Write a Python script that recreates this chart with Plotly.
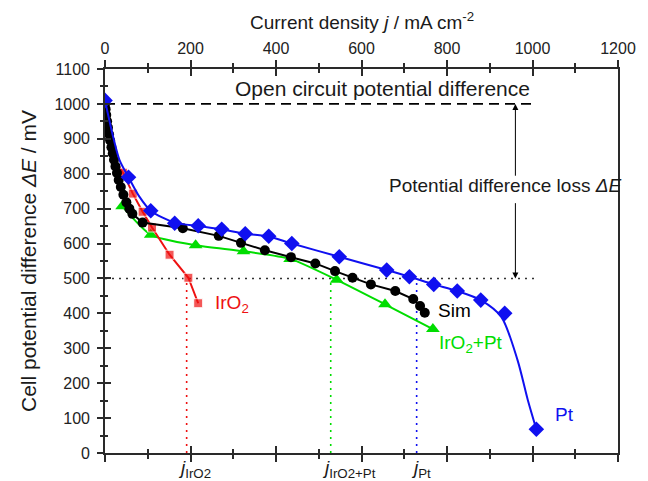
import plotly.graph_objects as go

# ---------------- data ----------------
pt_j = [0, 55, 107, 163, 218, 273, 328, 383, 437, 548, 659, 712, 769, 824, 879, 935, 1009]
pt_E = [1010, 790, 694, 658, 651, 641, 628, 621, 600, 562, 524, 505, 483, 464, 438, 400, 68]

pt_fit_j = [0, 19, 34, 55, 80, 107, 163, 218, 273, 328, 383, 437, 548, 659, 712, 769, 824, 879, 927, 965, 989, 1009]
pt_fit_E = [1010, 906, 839, 790, 735, 694, 660, 650, 641, 628, 620, 600, 562, 524, 505, 483, 464, 438, 390, 266, 152, 68]

sim_j = [0, 1.5, 3, 5, 7, 9.5, 12, 15, 18, 21, 24.5, 28, 32, 37, 43, 50, 57, 64, 88,
         182, 266, 318, 374, 435, 492, 538, 579, 622, 679, 721, 737, 748]
sim_E = [1000, 985, 968, 950, 932, 913, 895, 876, 858, 840, 821, 802, 782, 762, 740, 718, 700, 685, 660,
         644, 622, 602, 581, 561, 543, 521, 502, 483, 464, 441, 421, 402]

mix_j = [40, 107, 212, 324, 433, 542, 655, 767]
mix_E = [707, 625, 595, 578, 556, 496, 426, 355]

iro2_j = [0, 15, 42, 65, 88, 110, 151, 195, 218]
iro2_E = [1000, 855, 803, 743, 691, 646, 568, 502, 429]

ocv_E = 1000
cut_E = 500
j_cut = {"IrO2": 191, "IrO2+Pt": 528, "Pt": 729}

x_ticks_range = [0, 1200]
y_range = [0, 1100]

# ---------------- styling ----------------
FONT = "Liberation Sans, Arial, sans-serif"
BLUE = "#1010F0"
GREEN = "#00DD00"
RED = "#EE1111"
AX = "#2a2a2a"

fig = go.Figure()

# reference lines
fig.add_trace(go.Scatter(x=[0, 1000], y=[ocv_E, ocv_E], mode="lines",
                         line=dict(color="black", width=1.6, dash="10px,6px"), hoverinfo="skip"))
fig.add_trace(go.Scatter(x=[0, 1010], y=[cut_E, cut_E], mode="lines",
                         line=dict(color="#333333", width=1.6, dash="2px,5px"), hoverinfo="skip"))
for key, col in [("IrO2", RED), ("IrO2+Pt", GREEN), ("Pt", BLUE)]:
    fig.add_trace(go.Scatter(x=[j_cut[key], j_cut[key]], y=[0, cut_E], mode="lines",
                             line=dict(color=col, width=1.6, dash="2px,5px"), hoverinfo="skip"))

# data series
fig.add_trace(go.Scatter(x=mix_j, y=mix_E, mode="lines+markers",
                         line=dict(color=GREEN, width=2, shape="spline", smoothing=0.6),
                         marker=dict(symbol="triangle-up", size=12, color=GREEN)))
red_sizes = [0, 0] + [9] * (len(iro2_j) - 2)
fig.add_trace(go.Scatter(x=iro2_j, y=iro2_E, mode="lines+markers",
                         line=dict(color=RED, width=2),
                         marker=dict(symbol="square", size=red_sizes, color=RED)))
fig.add_trace(go.Scatter(x=sim_j, y=sim_E, mode="lines+markers",
                         line=dict(color="black", width=2),
                         marker=dict(symbol="circle", size=10, color="black")))
fig.add_trace(go.Scatter(x=pt_fit_j, y=pt_fit_E, mode="lines",
                         line=dict(color=BLUE, width=2, shape="spline", smoothing=0.8)))
fig.add_trace(go.Scatter(x=pt_j, y=pt_E, mode="markers",
                         marker=dict(symbol="diamond", size=12, color=BLUE)))

# dummy traces to bind overlay axes
for xa, ya in [("x2", "y"), ("x3", "y"), ("x4", "y"), ("x", "y2")]:
    fig.add_trace(go.Scatter(x=[None], y=[None], xaxis=xa, yaxis=ya, hoverinfo="skip"))

common_x = dict(range=x_ticks_range, tick0=0, dtick=200, showgrid=False, zeroline=False,
                linecolor=AX, linewidth=1.6, tickcolor=AX, tickwidth=1.6, ticklen=7,
                tickfont=dict(family=FONT, size=16, color="#222"))
common_y = dict(range=y_range, tick0=0, dtick=100, showgrid=False, zeroline=False,
                linecolor=AX, linewidth=1.6, tickcolor=AX, tickwidth=1.6, ticklen=6,
                tickfont=dict(family=FONT, size=16, color="#222"))

fig.update_layout(
    width=648, height=481,
    margin=dict(l=105, r=19, t=69, b=28),
    paper_bgcolor="white", plot_bgcolor="white",
    showlegend=False,
    font=dict(family=FONT, size=16, color="#222"),
    xaxis=dict(**common_x, side="bottom", anchor="y", showline=True, ticks="outside",
               showticklabels=False,
               minor=dict(dtick=100, ticklen=4, ticks="outside", tickcolor=AX, tickwidth=1.6)),
    xaxis3=dict(**common_x, side="bottom", anchor="y", overlaying="x", showline=False, ticks="inside",
                showticklabels=False,
                minor=dict(dtick=100, ticklen=4, ticks="inside", tickcolor=AX, tickwidth=1.6)),
    xaxis2=dict(**common_x, side="top", anchor="y", overlaying="x", showline=True, ticks="outside",
                showticklabels=True,
                minor=dict(dtick=100, ticklen=4, ticks="outside", tickcolor=AX, tickwidth=1.6)),
    xaxis4=dict(**common_x, side="top", anchor="y", overlaying="x", showline=False, ticks="inside",
                showticklabels=False,
                minor=dict(dtick=100, ticklen=4, ticks="inside", tickcolor=AX, tickwidth=1.6)),
    yaxis=dict(**common_y, side="left", anchor="x", showline=True, mirror=True, ticks="outside",
               showticklabels=True, ticklabelstandoff=4,
               minor=dict(dtick=50, ticklen=3, ticks="outside", tickcolor=AX, tickwidth=1.6)),
    yaxis2=dict(**common_y, side="left", anchor="x", overlaying="y", showline=False, ticks="inside",
                showticklabels=False,
                minor=dict(dtick=50, ticklen=3, ticks="inside", tickcolor=AX, tickwidth=1.6)),
)

ann = []
TXT = dict(family=FONT, size=19, color="#1a1a1a")
# titles
ann.append(dict(text="Current density <i>j</i> / mA cm<sup>-2</sup>", xref="paper", yref="paper",
                x=0.5, y=1, yshift=48, xanchor="center", yanchor="middle", showarrow=False, font=TXT))
ann.append(dict(text="Cell potential difference <i>ΔE</i> / mV", xref="paper", yref="paper",
                x=0, y=0.5, xshift=-77, xanchor="center", yanchor="middle", textangle=-90,
                showarrow=False, font=dict(family=FONT, size=21, color="#1a1a1a")))
# annotations inside
ann.append(dict(text="Open circuit potential difference", x=648, y=1043, xref="x", yref="y",
                showarrow=False, font=dict(family=FONT, size=21, color="#1a1a1a")))
ann.append(dict(text="Potential difference loss <i>ΔE</i>", x=935, y=765, xref="x", yref="y",
                showarrow=False, font=TXT))
# arrows
for tail, head in [(790, ocv_E), (720, cut_E)]:
    ann.append(dict(text="", x=960, y=head, ax=960, ay=tail, xref="x", yref="y", axref="x", ayref="y",
                    showarrow=True, arrowhead=2, arrowsize=1.2, arrowwidth=1, arrowcolor="black",
                    standoff=0, startstandoff=0))
# series labels
ann.append(dict(text="IrO<sub>2</sub>", x=253, y=427, xref="x", yref="y", xanchor="left",
                showarrow=False, font=dict(family=FONT, size=19, color=RED)))
ann.append(dict(text="Sim", x=775, y=408, xref="x", yref="y", xanchor="left",
                showarrow=False, font=dict(family=FONT, size=19, color="black")))
ann.append(dict(text="IrO<sub>2</sub>+Pt", x=777, y=312, xref="x", yref="y", xanchor="left",
                showarrow=False, font=dict(family=FONT, size=19, color=GREEN)))
ann.append(dict(text="Pt", x=1048, y=110, xref="x", yref="y", xanchor="left",
                showarrow=False, font=dict(family=FONT, size=19, color=BLUE)))
# j labels below axis
for key, xl in [("IrO2", 167), ("IrO2+Pt", 504), ("Pt", 710)]:
    ann.append(dict(text="<i>j</i><sub>%s</sub>" % key, x=xl, y=0, yshift=-16, xref="x", yref="y",
                    xanchor="left", yanchor="middle", showarrow=False, font=TXT))

fig.update_layout(annotations=ann)

fig.write_html("out.html", config={"displayModeBar": False},
               post_script="document.body.style.margin='0px';")
